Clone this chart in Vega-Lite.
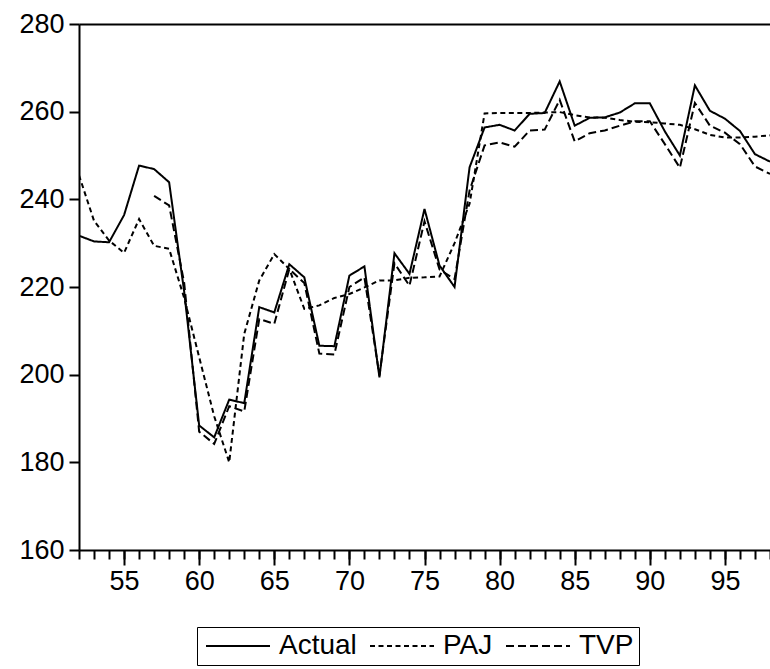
{
  "$schema": "https://vega.github.io/schema/vega-lite/v6.json",
  "autosize": "none",
  "width": 691,
  "height": 526,
  "padding": {"left": 79, "top": 24, "right": 0, "bottom": 119},
  "background": "white",
  "config": {
    "view": {"stroke": null},
    "font": "Liberation Sans",
    "axis": {"grid": false, "domainColor": "black", "domainWidth": 2, "tickColor": "black", "tickWidth": 2, "labelColor": "black", "labelFont": "Liberation Sans", "labelFontSize": 27, "title": null}
  },
  "data": {"values": [
    {"year": 52, "series": "Actual", "value": 231.7}, {"year": 52, "series": "PAJ", "value": 245.5},
    {"year": 53, "series": "Actual", "value": 230.4}, {"year": 53, "series": "PAJ", "value": 235.1},
    {"year": 54, "series": "Actual", "value": 230.2}, {"year": 54, "series": "PAJ", "value": 230.6},
    {"year": 55, "series": "Actual", "value": 236.4}, {"year": 55, "series": "PAJ", "value": 227.8},
    {"year": 56, "series": "Actual", "value": 247.7}, {"year": 56, "series": "PAJ", "value": 235.5},
    {"year": 57, "series": "Actual", "value": 246.9}, {"year": 57, "series": "PAJ", "value": 229.4}, {"year": 57, "series": "TVP", "value": 240.8},
    {"year": 58, "series": "Actual", "value": 243.9}, {"year": 58, "series": "PAJ", "value": 228.7}, {"year": 58, "series": "TVP", "value": 238.6},
    {"year": 59, "series": "Actual", "value": 219.0}, {"year": 59, "series": "PAJ", "value": 217.5}, {"year": 59, "series": "TVP", "value": 221.0},
    {"year": 60, "series": "Actual", "value": 188.4}, {"year": 60, "series": "PAJ", "value": 204.0}, {"year": 60, "series": "TVP", "value": 187.0},
    {"year": 61, "series": "Actual", "value": 185.7}, {"year": 61, "series": "PAJ", "value": 190.5}, {"year": 61, "series": "TVP", "value": 184.2},
    {"year": 62, "series": "Actual", "value": 194.3}, {"year": 62, "series": "PAJ", "value": 180.0}, {"year": 62, "series": "TVP", "value": 192.8},
    {"year": 63, "series": "Actual", "value": 193.5}, {"year": 63, "series": "PAJ", "value": 209.3}, {"year": 63, "series": "TVP", "value": 191.6},
    {"year": 64, "series": "Actual", "value": 215.4}, {"year": 64, "series": "PAJ", "value": 221.5}, {"year": 64, "series": "TVP", "value": 212.7},
    {"year": 65, "series": "Actual", "value": 214.2}, {"year": 65, "series": "PAJ", "value": 227.5}, {"year": 65, "series": "TVP", "value": 211.6},
    {"year": 66, "series": "Actual", "value": 225.2}, {"year": 66, "series": "PAJ", "value": 224.1}, {"year": 66, "series": "TVP", "value": 224.1},
    {"year": 67, "series": "Actual", "value": 222.2}, {"year": 67, "series": "PAJ", "value": 215.0}, {"year": 67, "series": "TVP", "value": 220.9},
    {"year": 68, "series": "Actual", "value": 206.6}, {"year": 68, "series": "PAJ", "value": 215.8}, {"year": 68, "series": "TVP", "value": 204.8},
    {"year": 69, "series": "Actual", "value": 206.5}, {"year": 69, "series": "PAJ", "value": 217.5}, {"year": 69, "series": "TVP", "value": 204.6},
    {"year": 70, "series": "Actual", "value": 222.6}, {"year": 70, "series": "PAJ", "value": 218.4}, {"year": 70, "series": "TVP", "value": 220.0},
    {"year": 71, "series": "Actual", "value": 224.7}, {"year": 71, "series": "PAJ", "value": 219.9}, {"year": 71, "series": "TVP", "value": 222.2},
    {"year": 72, "series": "Actual", "value": 199.4}, {"year": 72, "series": "PAJ", "value": 221.5}, {"year": 72, "series": "TVP", "value": 199.8},
    {"year": 73, "series": "Actual", "value": 227.7}, {"year": 73, "series": "PAJ", "value": 221.5}, {"year": 73, "series": "TVP", "value": 225.4},
    {"year": 74, "series": "Actual", "value": 223.0}, {"year": 74, "series": "PAJ", "value": 222.1}, {"year": 74, "series": "TVP", "value": 220.3},
    {"year": 75, "series": "Actual", "value": 237.8}, {"year": 75, "series": "PAJ", "value": 222.2}, {"year": 75, "series": "TVP", "value": 235.0},
    {"year": 76, "series": "Actual", "value": 224.9}, {"year": 76, "series": "PAJ", "value": 222.4}, {"year": 76, "series": "TVP", "value": 224.0},
    {"year": 77, "series": "Actual", "value": 220.0}, {"year": 77, "series": "PAJ", "value": 230.0}, {"year": 77, "series": "TVP", "value": 221.8},
    {"year": 78, "series": "Actual", "value": 247.3}, {"year": 78, "series": "PAJ", "value": 239.0}, {"year": 78, "series": "TVP", "value": 242.0},
    {"year": 79, "series": "Actual", "value": 256.4}, {"year": 79, "series": "PAJ", "value": 259.6}, {"year": 79, "series": "TVP", "value": 252.3},
    {"year": 80, "series": "Actual", "value": 257.0}, {"year": 80, "series": "PAJ", "value": 259.7}, {"year": 80, "series": "TVP", "value": 253.0},
    {"year": 81, "series": "Actual", "value": 255.7}, {"year": 81, "series": "PAJ", "value": 259.7}, {"year": 81, "series": "TVP", "value": 252.0},
    {"year": 82, "series": "Actual", "value": 259.5}, {"year": 82, "series": "PAJ", "value": 259.7}, {"year": 82, "series": "TVP", "value": 255.7},
    {"year": 83, "series": "Actual", "value": 259.7}, {"year": 83, "series": "PAJ", "value": 259.8}, {"year": 83, "series": "TVP", "value": 255.9},
    {"year": 84, "series": "Actual", "value": 266.9}, {"year": 84, "series": "PAJ", "value": 259.9}, {"year": 84, "series": "TVP", "value": 262.7},
    {"year": 85, "series": "Actual", "value": 256.8}, {"year": 85, "series": "PAJ", "value": 259.2}, {"year": 85, "series": "TVP", "value": 253.2},
    {"year": 86, "series": "Actual", "value": 258.6}, {"year": 86, "series": "PAJ", "value": 258.7}, {"year": 86, "series": "TVP", "value": 255.1},
    {"year": 87, "series": "Actual", "value": 258.7}, {"year": 87, "series": "PAJ", "value": 258.6}, {"year": 87, "series": "TVP", "value": 255.7},
    {"year": 88, "series": "Actual", "value": 259.8}, {"year": 88, "series": "PAJ", "value": 258.1}, {"year": 88, "series": "TVP", "value": 256.8},
    {"year": 89, "series": "Actual", "value": 261.9}, {"year": 89, "series": "PAJ", "value": 257.7}, {"year": 89, "series": "TVP", "value": 257.8},
    {"year": 90, "series": "Actual", "value": 261.9}, {"year": 90, "series": "PAJ", "value": 257.6}, {"year": 90, "series": "TVP", "value": 257.8},
    {"year": 91, "series": "Actual", "value": 255.5}, {"year": 91, "series": "PAJ", "value": 257.3}, {"year": 91, "series": "TVP", "value": 252.6},
    {"year": 92, "series": "Actual", "value": 250.0}, {"year": 92, "series": "PAJ", "value": 257.0}, {"year": 92, "series": "TVP", "value": 247.2},
    {"year": 93, "series": "Actual", "value": 266.0}, {"year": 93, "series": "PAJ", "value": 256.0}, {"year": 93, "series": "TVP", "value": 262.0},
    {"year": 94, "series": "Actual", "value": 260.2}, {"year": 94, "series": "PAJ", "value": 254.7}, {"year": 94, "series": "TVP", "value": 256.8},
    {"year": 95, "series": "Actual", "value": 258.4}, {"year": 95, "series": "PAJ", "value": 254.1}, {"year": 95, "series": "TVP", "value": 255.2},
    {"year": 96, "series": "Actual", "value": 255.6}, {"year": 96, "series": "PAJ", "value": 254.1}, {"year": 96, "series": "TVP", "value": 252.6},
    {"year": 97, "series": "Actual", "value": 250.3}, {"year": 97, "series": "PAJ", "value": 254.3}, {"year": 97, "series": "TVP", "value": 247.5},
    {"year": 98, "series": "Actual", "value": 248.6}, {"year": 98, "series": "PAJ", "value": 254.6}, {"year": 98, "series": "TVP", "value": 245.8}
  ]},
  "layer": [
    {
      "mark": {"type": "line", "color": "black", "strokeWidth": 2, "clip": true},
      "encoding": {
        "x": {"field": "year", "type": "quantitative", "scale": {"domain": [52, 98], "nice": false, "zero": false},
              "axis": {"orient": "bottom", "values": [52,53,54,55,56,57,58,59,60,61,62,63,64,65,66,67,68,69,70,71,72,73,74,75,76,77,78,79,80,81,82,83,84,85,86,87,88,89,90,91,92,93,94,95,96,97,98], "labels": false, "tickSize": 9, "domain": true}},
        "y": {"field": "value", "type": "quantitative", "scale": {"domain": [160, 280], "nice": false, "zero": false},
              "axis": {"values": [160, 180, 200, 220, 240, 260, 280], "tickSize": 10, "labelPadding": 5}},
        "strokeDash": {"field": "series", "type": "nominal",
          "scale": {"domain": ["Actual", "PAJ", "TVP"], "range": [[1, 0], [5, 3.5], [8, 4]]},
          "legend": {"title": null, "orient": "none", "legendX": 118, "legendY": 603, "direction": "horizontal", "strokeColor": "black", "padding": 5,
                     "labelFontSize": 28, "labelFont": "Liberation Sans", "labelColor": "black", "labelOffset": 27,
                     "symbolType": "M-3.2,0H3.2", "symbolSize": 400, "symbolOffset": 22, "symbolStrokeWidth": 2, "symbolStrokeColor": "black", "symbolFillColor": "transparent", "columnPadding": 9}},
        "detail": {"field": "series"},
        "order": {"field": "year"}
      }
    },
    {
      "mark": {"type": "line", "opacity": 0},
      "encoding": {
        "x": {"field": "year", "type": "quantitative",
              "axis": {"orient": "bottom", "values": [55, 60, 65, 70, 75, 80, 85, 90, 95], "tickSize": 15, "labelPadding": 3, "domain": false}},
        "y": {"field": "value", "type": "quantitative"},
        "detail": {"field": "series"}
      }
    },
    {
      "mark": {"type": "line", "opacity": 0},
      "encoding": {
        "x": {"field": "year", "type": "quantitative",
              "axis": {"orient": "top", "labels": false, "ticks": false, "domain": true}},
        "y": {"field": "value", "type": "quantitative"},
        "detail": {"field": "series"}
      }
    }
  ],
  "resolve": {"axis": {"x": "independent"}}
}
